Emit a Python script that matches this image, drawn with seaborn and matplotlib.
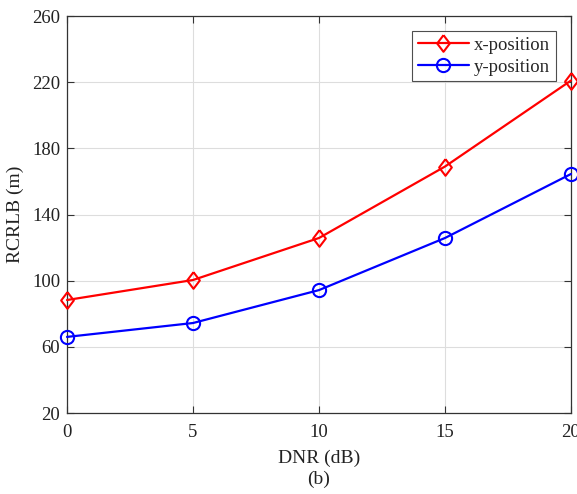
import matplotlib
matplotlib.use("Agg")
import matplotlib.pyplot as plt
import seaborn as sns
import pandas as pd

dnr = [0, 5, 10, 15, 20]
x_pos = [88.3, 100.4, 125.8, 169.0, 221.0]
y_pos = [66.0, 74.4, 94.3, 125.8, 164.5]
series_names = ["x-position", "y-position"]

sns.set_style("ticks")
plt.rcParams['font.family'] = ['Liberation Serif', 'DejaVu Serif']
plt.rcParams['mathtext.fontset'] = 'stix'

fig = plt.figure(figsize=(5.77, 4.94), dpi=100)
ax = fig.add_axes([67/577, 1-413/494, (571-67)/577, (413-16)/494])

df = pd.DataFrame({"DNR": dnr * 2,
                   "RCRLB": x_pos + y_pos,
                   "series": [series_names[0]] * 5 + [series_names[1]] * 5})

sns.lineplot(data=df, x="DNR", y="RCRLB", hue="series", style="series",
             palette={series_names[0]: "#ff0000", series_names[1]: "#0000ff"},
             markers={series_names[0]: "D", series_names[1]: "o"},
             dashes=False, ax=ax, linewidth=1.6,
             markersize=9.5, markerfacecolor="none", markeredgewidth=1.5,
             clip_on=False, zorder=3)

diamond = [(0, 1), (0.76, 0), (0, -1), (-0.76, 0), (0, 1)]


def style_line(line):
    if line.get_marker() == "D":
        line.set_marker(diamond)
        line.set_markersize(12)
    line.set_markerfacecolor("none")
    line.set_markeredgecolor(line.get_color())


for line in ax.lines:
    style_line(line)

ax.set_xlim(0, 20)
ax.set_ylim(20, 260)
ax.set_xticks([0, 5, 10, 15, 20])
ax.set_yticks([20, 60, 100, 140, 180, 220, 260])
ax.grid(True, color="#dddddd", linewidth=0.8)
ax.set_axisbelow(True)
ax.tick_params(direction="in", top=True, right=True, labelsize=13.5, length=5,
               color="#333333", width=0.8, labelcolor="#222222")
ax.tick_params(axis="y", pad=5)
ax.tick_params(axis="x", pad=8)
for s in ax.spines.values():
    s.set_color("#333333")
    s.set_linewidth(0.9)

ax.set_xlabel("DNR (dB)\n(b)", fontsize=14, color="#222222", labelpad=6, linespacing=1.3)
ax.set_ylabel("RCRLB (m)", fontsize=14, color="#222222", labelpad=6)

leg = ax.legend(loc="upper right", fontsize=13.5, frameon=True, fancybox=False,
                edgecolor="#222222", borderaxespad=0.0, handlelength=2.7,
                borderpad=0.3, labelspacing=0.25, handletextpad=0.3,
                bbox_to_anchor=(0.970, 0.962))
leg.get_frame().set_linewidth(0.8)
for h in leg.get_lines():
    style_line(h)

fig.savefig("out.png", dpi=100)
